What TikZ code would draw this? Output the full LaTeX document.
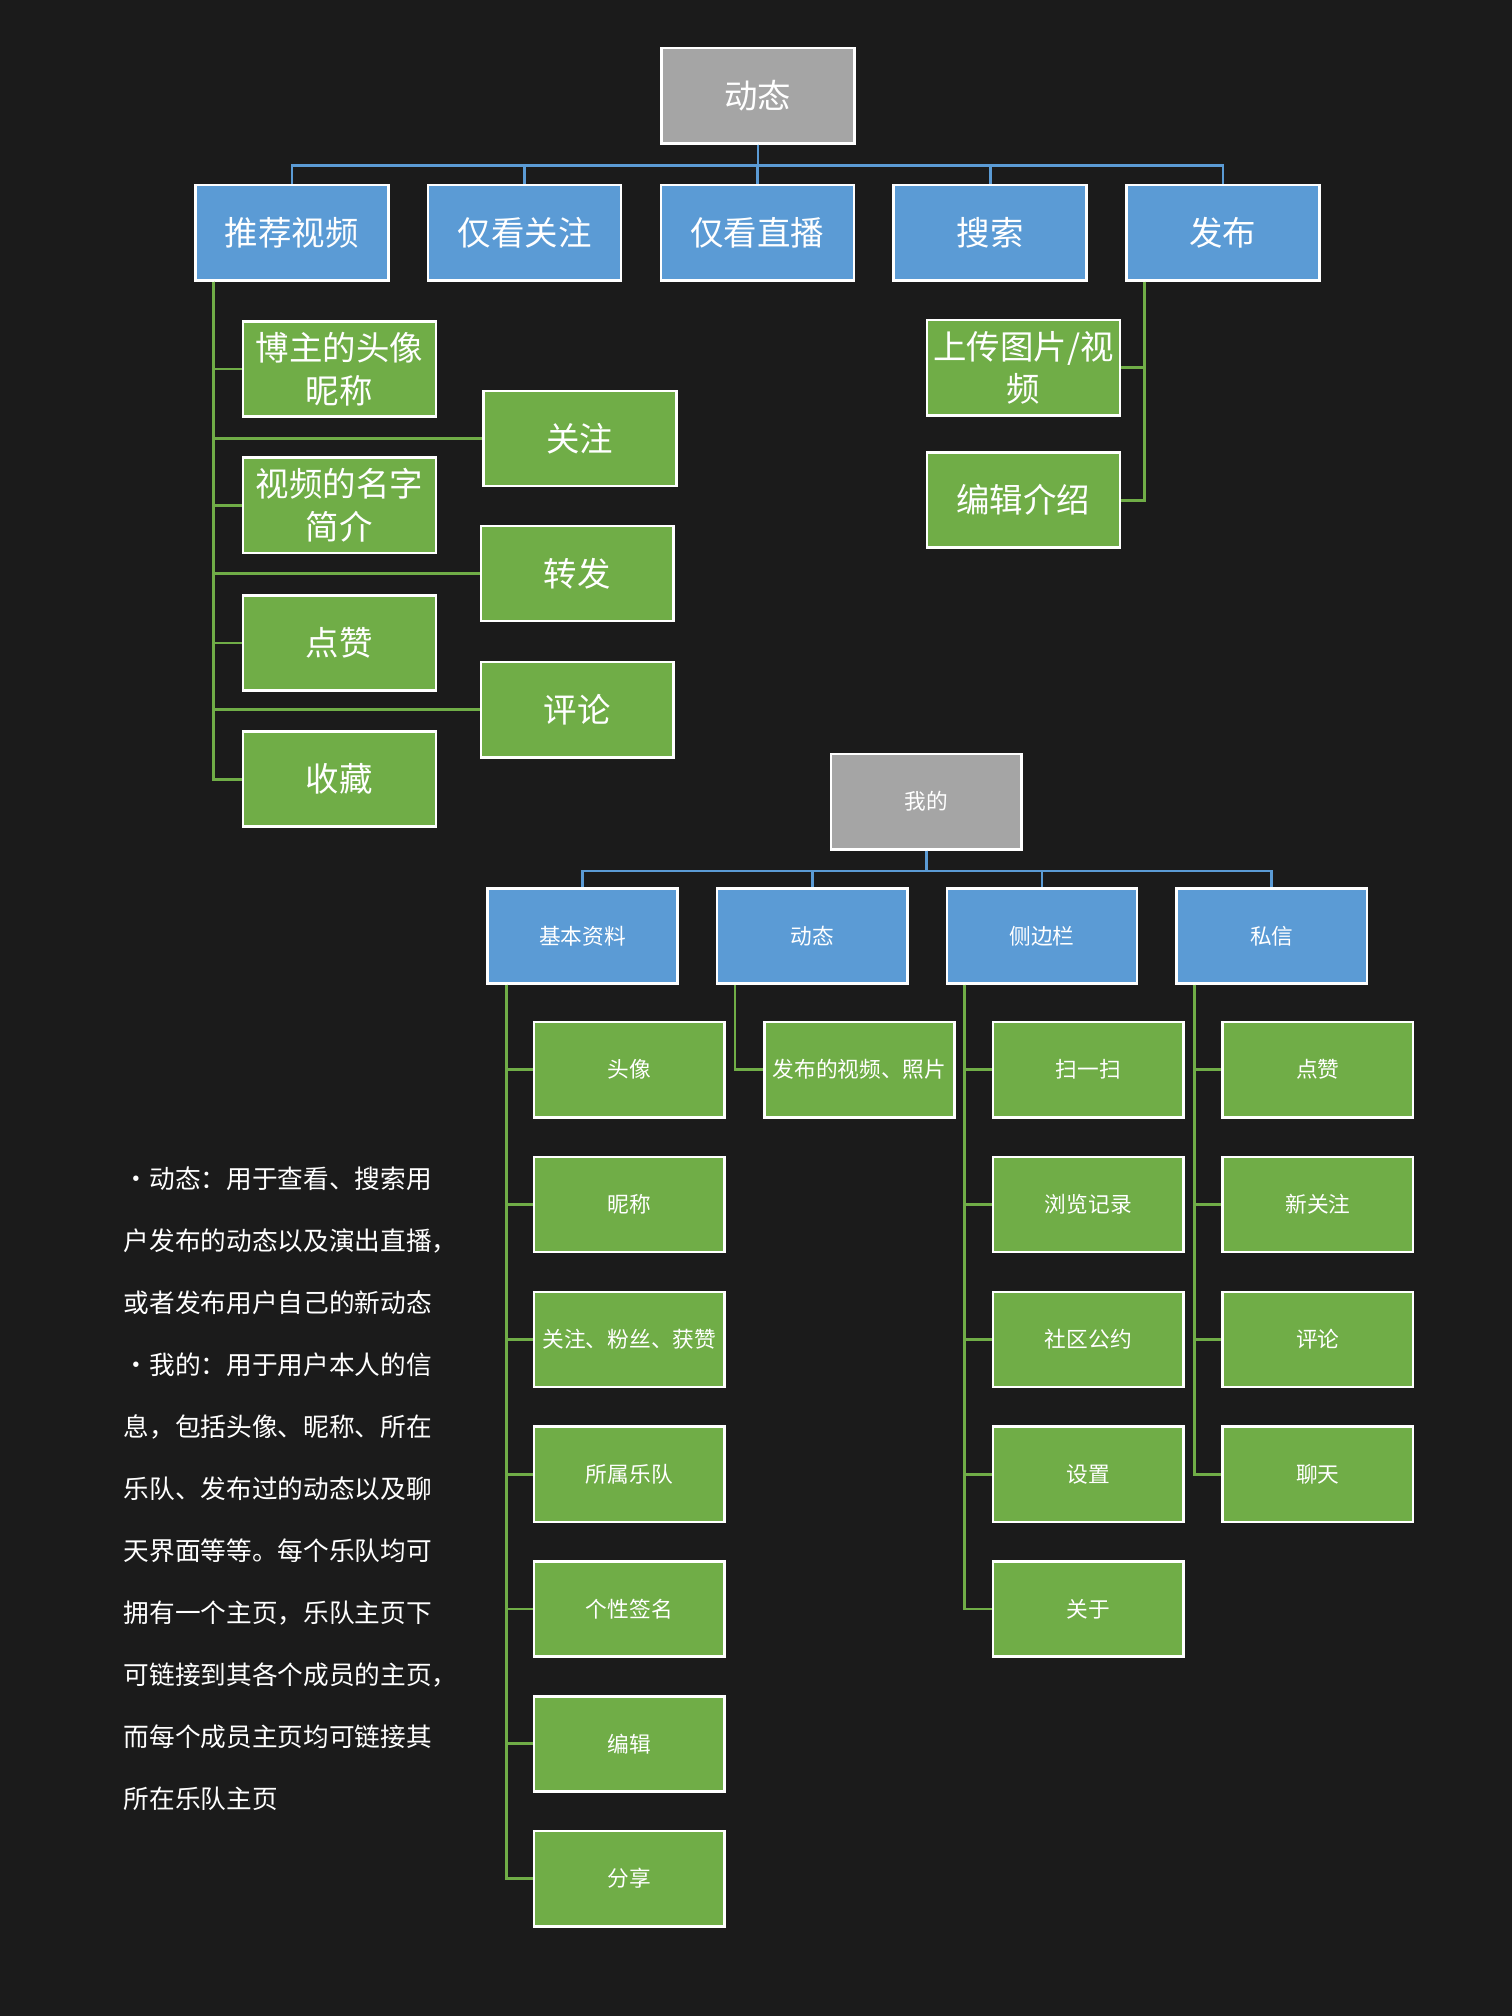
\documentclass[tikz,border=0pt]{standalone}
\usepackage{fontspec}
\setmainfont{Noto Sans CJK SC}
\usepackage{tikz}

\definecolor{bg}{HTML}{1B1B1B}
\definecolor{boxblue}{HTML}{5B9BD5}
\definecolor{boxgreen}{HTML}{70AD47}
\definecolor{boxgray}{HTML}{A5A5A5}

\begin{document}
\begin{tikzpicture}[x=0.025cm,y=-0.025cm,
    box/.style={draw=white,line width=1.4pt,text=white,inner sep=1pt,align=center,
        minimum width=3.75cm,minimum height=1.85cm,font=\fontsize{18.5}{23.5}\selectfont},
    sbox/.style={box,minimum width=3.7cm,font=\fontsize{12}{14}\selectfont},
    topbox/.style={fill=boxgray},
    midbox/.style={fill=boxblue},
    leafbox/.style={fill=boxgreen},
    bline/.style={draw=boxblue,line width=1.5pt},
    gline/.style={draw=boxgreen,line width=1.5pt}]
    \fill[bg] (0,0) rectangle (1176,1568);
    \useasboundingbox (0,0) rectangle (1176,1568);

    % first tree
    \node[box,topbox] (t) at (589.5,74.5) {动态};
    \begin{scope}[node distance=4.525cm]
    \node[box,midbox] (b1) at (227,181) {推荐视频};
    \node[box,midbox,right of=b1] (b2) {仅看关注};
    \node[box,midbox,right of=b2] (b3) {仅看直播};
    \node[box,midbox,right of=b3] (b4) {搜索};
    \node[box,midbox,right of=b4] (b5) {发布};
    \end{scope}
    \node[box,leafbox] (g1) at (264,287) {博主的头像\\昵称};
    \node[box,leafbox] (g2) at (451,341) {关注};
    \node[box,leafbox] (g3) at (264,393) {视频的名字\\简介};
    \node[box,leafbox] (g4) at (449,446) {转发};
    \node[box,leafbox] (g5) at (264,500) {点赞};
    \node[box,leafbox] (g6) at (449,552) {评论};
    \node[box,leafbox] (g7) at (264,606) {收藏};
    \node[box,leafbox] (p1) at (796,286) {上传图片/视\\频};
    \node[box,leafbox] (p2) at (796,389) {编辑介绍};

    \foreach \n in {b1,b2,b3,b4,b5}
        \draw[bline] (t.south) -- ++(0,16) -| (\n.north);
    \foreach \n in {g1,g2,g3,g4,g5,g6,g7}
        \draw[gline] (b1.south west) ++(15,0) |- (\n.west);
    \foreach \n in {p1,p2}
        \draw[gline] (b5.south west) ++(15,0) |- (\n.east);

    % second tree
    \node[sbox,topbox] (m) at (720.5,623.5) {我的};
    \begin{scope}[node distance=4.4667cm]
    \node[sbox,midbox] (c1) at (453,728) {基本资料};
    \node[sbox,midbox,right of=c1] (c2) {动态};
    \node[sbox,midbox,right of=c2] (c3) {侧边栏};
    \node[sbox,midbox,right of=c3] (c4) {私信};
    \end{scope}
    \begin{scope}[node distance=2.6208cm]
    \node[sbox,leafbox] (d1) at (489.5,832) {头像};
    \node[sbox,leafbox,below of=d1] (d2) {昵称};
    \node[sbox,leafbox,below of=d2] (d3) {关注、粉丝、获赞};
    \node[sbox,leafbox,below of=d3] (d4) {所属乐队};
    \node[sbox,leafbox,below of=d4] (d5) {个性签名};
    \node[sbox,leafbox,below of=d5] (d6) {编辑};
    \node[sbox,leafbox,below of=d6] (d7) {分享};
    \node[sbox,leafbox] (h1) at (668.5,832) {发布的视频、照片};
    \node[sbox,leafbox] (e1) at (846.5,832) {扫一扫};
    \node[sbox,leafbox,below of=e1] (e2) {浏览记录};
    \node[sbox,leafbox,below of=e2] (e3) {社区公约};
    \node[sbox,leafbox,below of=e3] (e4) {设置};
    \node[sbox,leafbox,below of=e4] (e5) {关于};
    \node[sbox,leafbox] (f1) at (1025,832) {点赞};
    \node[sbox,leafbox,below of=f1] (f2) {新关注};
    \node[sbox,leafbox,below of=f2] (f3) {评论};
    \node[sbox,leafbox,below of=f3] (f4) {聊天};
    \end{scope}

    \foreach \n in {c1,c2,c3,c4}
        \draw[bline] (m.south) -- ++(0,16) -| (\n.north);
    \foreach \n in {d1,d2,d3,d4,d5,d6,d7}
        \draw[gline] (c1.south west) ++(16,0) |- (\n.west);
    \draw[gline] (c2.south west) ++(15,0) |- (h1.west);
    \foreach \n in {e1,e2,e3,e4,e5}
        \draw[gline] (c3.south west) ++(15,0) |- (\n.west);
    \foreach \n in {f1,f2,f3,f4}
        \draw[gline] (c4.south west) ++(15,0) |- (\n.west);

    % notes
    \node[anchor=north west,align=left,text=white,inner sep=0,
        font=\fontsize{14.2}{34.3}\selectfont] (note) at (96,907)
        {・动态：用于查看、搜索用\\
         户发布的动态以及演出直播，\\
         或者发布用户自己的新动态\\
         ・我的：用于用户本人的信\\
         息，包括头像、昵称、所在\\
         乐队、发布过的动态以及聊\\
         天界面等等。每个乐队均可\\
         拥有一个主页，乐队主页下\\
         可链接到其各个成员的主页，\\
         而每个成员主页均可链接其\\
         所在乐队主页};
\end{tikzpicture}
\end{document}
